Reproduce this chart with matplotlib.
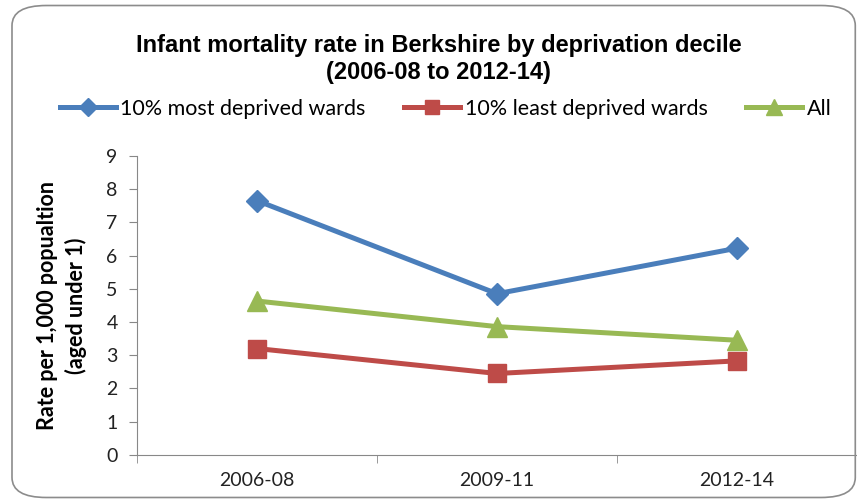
import numpy as np
import matplotlib
matplotlib.use("Agg")
import matplotlib.pyplot as plt
from matplotlib.patches import FancyBboxPatch

periods = ["2006-08", "2009-11", "2012-14"]
most_deprived = [7.65, 4.85, 6.22]
least_deprived = [3.2, 2.45, 2.83]
all_wards = [4.63, 3.86, 3.45]

plt.rcParams['font.family'] = ['Lato', 'DejaVu Sans']

fig = plt.figure(figsize=(8.57, 5.01), dpi=100)
ax = fig.add_axes([0.160, 0.092, 0.840, 0.597])

# bordo arrotondato del grafico
frame = FancyBboxPatch((0.014, 0.007), 0.984, 0.982,
                       boxstyle="round,pad=0,rounding_size=0.04",
                       transform=fig.transFigure, fill=False,
                       edgecolor="#8c8c8c", linewidth=1.2)
fig.patches.append(frame)

x = np.arange(len(periods))
ax.plot(x, most_deprived, color="#4A7EBB", lw=3.6, marker="D", ms=11,
        label="10% most deprived wards", zorder=3)
ax.plot(x, least_deprived, color="#BE4B48", lw=3.6, marker="s", ms=13,
        label="10% least deprived wards", zorder=3)
ax.plot(x, all_wards, color="#98B954", lw=3.6, marker="^", ms=14,
        label="All", zorder=3)

ax.set_xlim(-0.5, 2.5)
ax.set_ylim(0, 9)
ax.set_yticks(range(0, 10))
ax.set_xticks(x)
ax.set_xticklabels(periods)
ax.set_xticks([-0.5, 0.5, 1.5, 2.5], minor=True)
ax.tick_params(axis="x", which="major", length=0, pad=12, labelsize=14, colors="#222222")
ax.tick_params(axis="x", which="minor", length=6, direction="out", color="#888888")
ax.tick_params(axis="y", length=6, direction="out", color="#888888", labelsize=14,
               pad=8, labelcolor="#222222")
for s in ["top", "right"]:
    ax.spines[s].set_visible(False)
ax.spines["left"].set_color("#888888")
ax.spines["bottom"].set_color("#888888")

ax.set_ylabel("Rate per 1,000 popualtion\n(aged under 1)", fontsize=15.5,
              fontweight="bold", labelpad=14, linespacing=1.35)

fig.text(0.512, 0.882, "Infant mortality rate in Berkshire by deprivation decile\n(2006-08 to 2012-14)",
         ha="center", va="center", fontsize=17, fontweight="bold",
         family=["Liberation Sans Narrow", "Liberation Sans", "DejaVu Sans"], linespacing=1.2)

fig.legend(loc="center", bbox_to_anchor=(0.52, 0.783), ncol=3, frameon=False,
           fontsize=15.5, handlelength=2.6, handletextpad=0.2, columnspacing=1.8,
           markerscale=0.8)

fig.savefig("out.png", dpi=100)
